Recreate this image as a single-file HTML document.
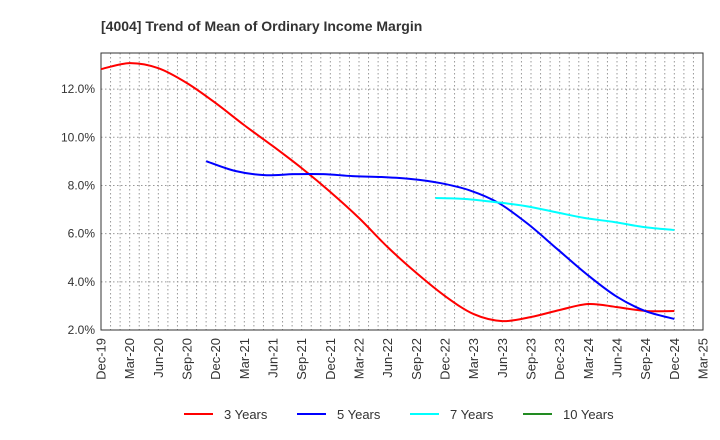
<!DOCTYPE html>
<html><head><meta charset="utf-8"><style>body{margin:0;background:#fff}svg{display:block;font-family:"Liberation Sans",Arial,sans-serif}</style></head>
<body>
<svg id="c" width="720" height="440">
<text x="101" y="31" font-size="14" font-weight="bold" fill="#333">[4004]  Trend of Mean of Ordinary Income Margin</text>
<g id="grid"></g><g id="axes"></g><g id="series"></g><g id="legend"></g>
</svg>
<script>
const xLabels=["Dec-19","Mar-20","Jun-20","Sep-20","Dec-20","Mar-21","Jun-21","Sep-21","Dec-21","Mar-22","Jun-22","Sep-22","Dec-22","Mar-23","Jun-23","Sep-23","Dec-23","Mar-24","Jun-24","Sep-24","Dec-24","Mar-25"];
const yTicks=[2,4,6,8,10,12];
const s3=[12.83,13.08,12.87,12.25,11.42,10.5,9.63,8.72,7.73,6.65,5.44,4.37,3.41,2.66,2.37,2.54,2.83,3.08,2.95,2.79,2.79];
const s5=[9.01,8.6,8.43,8.47,8.47,8.39,8.35,8.27,8.1,7.8,7.27,6.4,5.36,4.32,3.41,2.79,2.46];
const s7=[7.48,7.44,7.31,7.15,6.9,6.65,6.48,6.27,6.15];
const s10=[];
const L=101,R=703,T=53,B=330,yMin=2,yMax=13.5;
const X=i=>L+i*(R-L)/(xLabels.length-1);
const Y=v=>B-(v-yMin)/(yMax-yMin)*(B-T);
const NS="http://www.w3.org/2000/svg";
function mk(t,a,p){const e=document.createElementNS(NS,t);for(const k in a)e.setAttribute(k,a[k]);p.appendChild(e);return e;}
const g=document.getElementById('grid'),ax=document.getElementById('axes'),se=document.getElementById('series'),lg=document.getElementById('legend');
for(let m=1;m<(xLabels.length-1)*3;m++){const x=L+m*(R-L)/((xLabels.length-1)*3);
const l=mk('line',{x1:x,x2:x,y1:T,y2:B,stroke:'#999','stroke-dasharray':'1.5,2.5','stroke-width':1},g);
}
yTicks.forEach(v=>{const y=Y(v);
const l=mk('line',{x1:L,x2:R,y1:y,y2:y,stroke:'#999','stroke-dasharray':'1.5,2.5'},g);

const t=mk('text',{x:L-6,y:y+4,'text-anchor':'end','font-size':12,fill:'#333'},ax);t.textContent=v.toFixed(1)+'%';
});
const fr=mk('rect',{x:L,y:T,width:R-L,height:B-T,fill:'none',stroke:'#333','stroke-width':1},ax);

xLabels.forEach((s,i)=>{const x=X(i);
const t=mk('text',{transform:`translate(${x+4.5},${B+8}) rotate(-90)`,'text-anchor':'end','font-size':13,fill:'#333'},ax);t.textContent=s;
});
function path(arr,off,end){const n=arr.length;const p=arr.map((v,i)=>[X(n>1?off+i*(end-off)/(n-1):off),Y(v)]);if(!p.length)return '';
let d=`M${p[0][0]},${p[0][1]}`;
for(let i=0;i<p.length-1;i++){const p0=p[i-1]||p[i],p1=p[i],p2=p[i+1],p3=p[i+2]||p2;
d+=` C${p1[0]+(p2[0]-p0[0])/6},${p1[1]+(p2[1]-p0[1])/6} ${p2[0]-(p3[0]-p1[0])/6},${p2[1]-(p3[1]-p1[1])/6} ${p2[0]},${p2[1]}`;}
return d;}
const series=[[s3,0,'#f00','3 Years','series-3-years'],[s5,3.667,'#00f','5 Years','series-5-years'],[s7,11.667,'#0ff','7 Years','series-7-years'],[s10,20,'#228b22','10 Years','series-10-years']];
series.forEach((s,k)=>{if(s[0].length){const e=mk('path',{d:path(s[0],s[1],20),fill:'none',stroke:s[2],'stroke-width':2},se);
}
const lx=184+k*113;
const gg=mk('g',{},lg);
mk('line',{x1:lx,x2:lx+29,y1:414,y2:414,stroke:s[2],'stroke-width':2},gg);
const t=mk('text',{x:lx+40,y:419,'font-size':13,fill:'#333'},gg);t.textContent=s[3];});
</script>
</body></html>
